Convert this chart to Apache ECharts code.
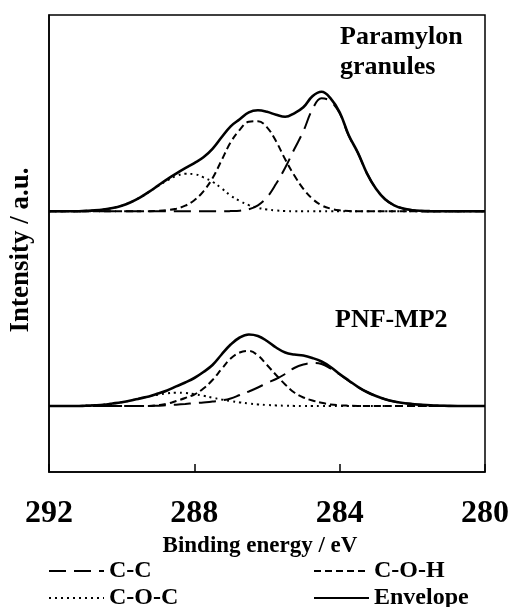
<!DOCTYPE html>
<html style="height: 100%">
<head>
    <meta charset="utf-8">
    <script src="https://cdn.jsdelivr.net/npm/echarts@6/dist/echarts.min.js"></script>
</head>
<body style="height: 100%; margin: 0; background: #fff">
    <div id="container" style="width: 512px; height: 607px"></div>
    <script type="text/javascript">
        // binding energy, eV (axis runs 292 -> 280)
        var energy = [292, 291.75, 291.5, 291.25, 291, 290.75, 290.5, 290.25, 290, 289.75,
            289.5, 289.25, 289, 288.75, 288.5, 288.25, 288, 287.75, 287.5, 287.25,
            287, 286.75, 286.5, 286.25, 286, 285.75, 285.5, 285.25, 285, 284.75,
            284.5, 284.25, 284, 283.75, 283.5, 283.25, 283, 282.75, 282.5, 282.25,
            282, 281.75, 281.5, 281.25, 281, 280.75, 280.5, 280.25, 280];

        // Paramylon granules (upper trace)
        var paraCC = [0, 0, 0, 0, 0, 0, 0, 0, 0, 0,
            0, 0, 0, 0, 0, 0, 0, 0, 0, 0,
            0.2, 0.6, 2, 6, 14, 27.5, 43.5, 62, 80, 102,
            113, 110, 98, 75.5, 58.5, 38, 22.5, 12, 6, 2.7,
            1.1, 0.4, 0.1, 0, 0, 0, 0, 0, 0];
        var paraCOH = [0, 0, 0, 0, 0, 0, 0, 0, 0, 0,
            0, 0.1, 0.4, 1.1, 2.5, 5.6, 11, 20, 33, 51,
            69, 81.5, 89.5, 90, 84, 70, 52, 36, 22.5, 12.5,
            6, 2.7, 1, 0.3, 0, 0, 0, 0, 0, 0,
            0, 0, 0, 0, 0, 0, 0, 0, 0];
        var paraCOC = [0, 0, 0, 0, 0.4, 0.9, 1.8, 3.3, 5.6, 9.1,
            13.7, 19.3, 25.3, 30.9, 35.2, 37.5, 37.1, 33.9, 29.5, 23,
            15.7, 10.3, 6.2, 3.5, 1.8, 0.8, 0.3, 0.1, 0, 0,
            0, 0, 0, 0, 0, 0, 0, 0, 0, 0,
            0, 0, 0, 0, 0, 0, 0, 0, 0];
        var paraEnv = [0, 0, 0, 0, 0.4, 0.9, 1.8, 3.3, 5.6, 9.1,
            13.7, 19.4, 25.7, 32, 37.7, 43.1, 48.2, 54, 62.5, 74,
            85, 92, 99, 101, 99.5, 96.5, 94.5, 98, 104, 115,
            119.5, 113, 99, 76, 58.7, 38, 22.5, 12, 6, 2.7,
            1.1, 0.4, 0.1, 0, 0, 0, 0, 0, 0];

        // PNF-MP2 (lower trace)
        var pnfCC = [0, 0, 0, 0, 0, 0, 0, 0, 0, 0,
            0, 0, 0.3, 0.7, 1.3, 2, 2.8, 3.5, 4.5, 5.5,
            7.5, 11, 14.5, 18.5, 23, 27, 32, 38, 41.5, 43,
            42, 37.5, 31.5, 25, 19, 14, 10, 6.8, 4.5, 3,
            2, 1.2, 0.6, 0.3, 0.1, 0, 0, 0, 0];
        var pnfCOH = [0, 0, 0, 0, 0, 0, 0, 0, 0, 0,
            0, 0, 0.8, 2.2, 5, 8, 11.5, 17.5, 26, 37,
            47.5, 53.5, 55, 50.5, 41, 31, 21.5, 13.5, 8.5, 5.5,
            3.2, 1.5, 0.7, 0.3, 0, 0, 0, 0, 0, 0,
            0, 0, 0, 0, 0, 0, 0, 0, 0];
        var pnfCOC = [0, 0, 0, 0, 0.3, 0.7, 1.3, 2.5, 3.8, 5.5,
            7.6, 9.6, 11.3, 12.6, 13.3, 13, 11.8, 10.3, 8.3, 6.5,
            5, 3.6, 2.5, 1.6, 1, 0.6, 0.3, 0.1, 0, 0,
            0, 0, 0, 0, 0, 0, 0, 0, 0, 0,
            0, 0, 0, 0, 0, 0, 0, 0, 0];
        var pnfEnv = [0, 0, 0, 0, 0.3, 0.7, 1.3, 2.5, 3.8, 5.5,
            7.6, 9.6, 12.4, 15.5, 19.6, 23.5, 28, 34, 41, 51.5,
            61.5, 68.5, 71.5, 70, 65, 58.5, 53.5, 51.5, 50.5, 48,
            44.5, 39, 32, 25.5, 19.2, 14, 10, 6.8, 4.5, 3,
            2, 1.2, 0.6, 0.3, 0.1, 0, 0, 0, 0];

        // vertical offsets of the two stacked traces
        var paraBase = 260.7;
        var pnfBase = 66;

        var xTicks = [292, 288, 284, 280];

        var serif = '"Liberation Serif", "Times New Roman", serif';

        function trace(values, base) {
            return energy.map(function (e, i) {
                return [e, values[i] + base];
            });
        }

        var styles = {
            'C-C': { width: 2, type: [17, 8] },
            'C-O-H': { width: 2, type: [7, 4] },
            'C-O-C': { width: 2, type: [2, 4] },
            'Envelope': { width: 2.6, type: 'solid' }
        };

        function line(name, values, base) {
            return {
                name: name,
                type: 'line',
                data: trace(values, base),
                smooth: 0.4,
                showSymbol: false,
                symbol: 'none',
                silent: true,
                lineStyle: {
                    color: '#000',
                    width: styles[name].width,
                    type: styles[name].type
                },
                itemStyle: { color: '#000' }
            };
        }

        function legendItem(name, left, top) {
            return {
                data: [name],
                left: left,
                top: top,
                padding: 0,
                itemWidth: 55,
                itemHeight: 12,
                selectedMode: false,
                itemStyle: { opacity: 0, color: 'rgba(0,0,0,0)', borderWidth: 0 },
                textStyle: {
                    fontFamily: serif,
                    fontWeight: 'bold',
                    fontSize: 24,
                    color: '#000'
                }
            };
        }

        var dom = document.getElementById('container');
        var myChart = echarts.init(dom);

        var option = {
            animation: false,
            backgroundColor: '#fff',
            grid: {
                left: 48,
                right: 27,
                top: 15,
                bottom: 135,
                show: true,
                borderColor: '#000',
                borderWidth: 1.5
            },
            xAxis: {
                type: 'value',
                inverse: true,
                min: 280,
                max: 292,
                interval: 4,
                name: 'Binding energy / eV',
                nameLocation: 'middle',
                nameGap: 60,
                nameTextStyle: {
                    fontFamily: serif,
                    fontWeight: 'bold',
                    fontSize: 23,
                    color: '#000',
                    padding: [0, 14, 0, 0]
                },
                axisLine: { lineStyle: { color: '#000', width: 1.5 } },
                axisTick: { inside: true, length: 8, lineStyle: { color: '#000', width: 1.5 } },
                splitLine: { show: false },
                axisLabel: {
                    margin: 26,
                    fontFamily: serif,
                    fontWeight: 'bold',
                    fontSize: 32,
                    color: '#000',
                    formatter: function (v) {
                        return xTicks.indexOf(v) >= 0 ? String(v) : '';
                    }
                }
            },
            yAxis: {
                type: 'value',
                min: 0,
                max: 457,
                name: 'Intensity / a.u.',
                nameLocation: 'middle',
                nameGap: 14,
                nameTextStyle: {
                    fontFamily: serif,
                    fontWeight: 'bold',
                    fontSize: 27,
                    color: '#000',
                    padding: [0, 13, 0, 0]
                },
                axisLine: { show: true, lineStyle: { color: '#000', width: 1.5 } },
                axisTick: { show: false },
                axisLabel: { show: false },
                splitLine: { show: false }
            },
            legend: [
                legendItem('C-C', 48, 559),
                legendItem('C-O-H', 313, 559),
                legendItem('C-O-C', 48, 586),
                legendItem('Envelope', 313, 586)
            ],
            graphic: [
                {
                    type: 'text',
                    left: 340,
                    top: 22,
                    style: {
                        text: 'Paramylon\ngranules',
                        font: 'bold 26px ' + serif,
                        lineHeight: 30,
                        fill: '#000'
                    }
                },
                {
                    type: 'text',
                    left: 335,
                    top: 307,
                    style: {
                        text: 'PNF-MP2',
                        font: 'bold 26px ' + serif,
                        fill: '#000'
                    }
                }
            ],
            series: [
                line('C-C', paraCC, paraBase),
                line('C-O-H', paraCOH, paraBase),
                line('C-O-C', paraCOC, paraBase),
                line('Envelope', paraEnv, paraBase),
                line('C-C', pnfCC, pnfBase),
                line('C-O-H', pnfCOH, pnfBase),
                line('C-O-C', pnfCOC, pnfBase),
                line('Envelope', pnfEnv, pnfBase)
            ]
        };

        if (option && typeof option === 'object') {
            myChart.setOption(option);
        }
    </script>
</body>
</html>
